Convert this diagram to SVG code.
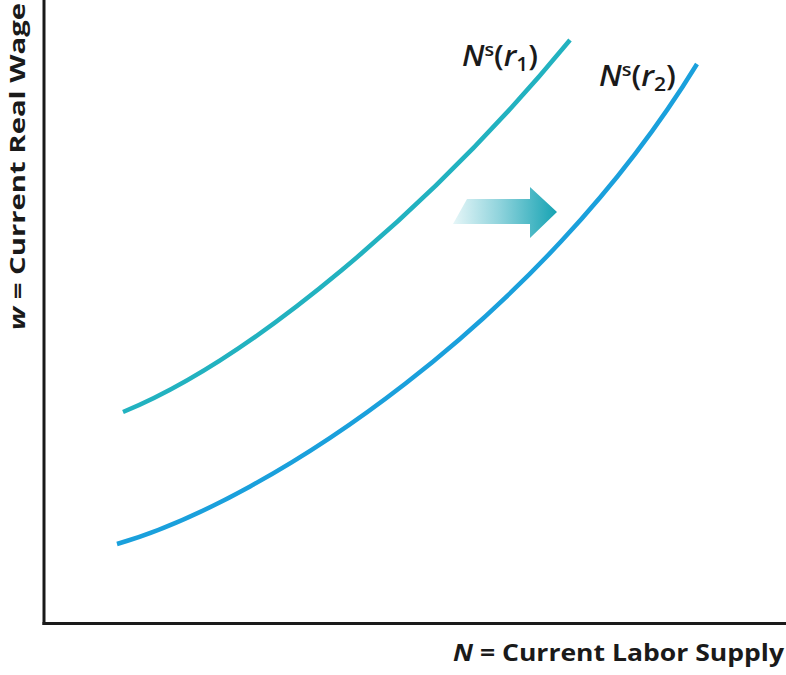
<svg xmlns="http://www.w3.org/2000/svg" width="786" height="675" viewBox="0 0 786 675">
<defs>
<linearGradient id="shiftGrad" x1="453" y1="0" x2="557" y2="0" gradientUnits="userSpaceOnUse">
<stop offset="0" stop-color="#e6f6f8"/>
<stop offset="0.45" stop-color="#8fd3dc"/>
<stop offset="1" stop-color="#16a3b3"/>
</linearGradient>
</defs>
<style>
.axis{stroke:#1a1a1a;stroke-width:3;fill:none}
.curve{fill:none;stroke-width:4.5;stroke-linecap:butt}
.lbl{font-family:"Open Sans","Liberation Sans",sans-serif;font-weight:600;fill:#1a1a1a}
.ax{font-family:"Open Sans","Liberation Sans",sans-serif;font-weight:700;fill:#1a1a1a}
.it{font-style:italic}
</style>
<g id="axes">
<line class="axis" x1="44" y1="0" x2="44" y2="625"/>
<line class="axis" x1="42.5" y1="623.5" x2="786" y2="623.5"/>
</g>
<g id="connectors">
<path id="curve-r1" class="curve" stroke="#22b2c0" d="M123,412 C250,360 430,210 570,40"/>
<path id="curve-r2" class="curve" stroke="#1aa0dc" d="M117,544 C270,500 540,320 697,64"/>
<path id="shift-arrow" fill="url(#shiftGrad)" d="M467,199 L530,199 L530,187 L557,212 L530,238 L530,224 L453,224 Z"/>
</g>
<g id="label-r1">
<text class="lbl" x="462" y="66" font-size="28" textLength="76" lengthAdjust="spacingAndGlyphs"><tspan class="it">N</tspan><tspan font-size="18" dy="-10">s</tspan><tspan dy="10">(</tspan><tspan class="it">r</tspan><tspan font-size="19" dy="5">1</tspan><tspan dy="-5">)</tspan></text>
</g>
<g id="label-r2">
<text class="lbl" x="599" y="86" font-size="28" textLength="77" lengthAdjust="spacingAndGlyphs"><tspan class="it">N</tspan><tspan font-size="18" dy="-10">s</tspan><tspan dy="10">(</tspan><tspan class="it">r</tspan><tspan font-size="19" dy="5">2</tspan><tspan dy="-5">)</tspan></text>
</g>
<g id="y-label">
<text class="ax" transform="translate(25,330) rotate(-90)" font-size="22" font-weight="600" textLength="327" lengthAdjust="spacingAndGlyphs"><tspan class="it">w</tspan> = Current Real Wage</text>
</g>
<g id="x-label">
<text class="ax" x="453" y="661" font-size="23" font-weight="600" textLength="331" lengthAdjust="spacingAndGlyphs"><tspan class="it">N</tspan> = Current Labor Supply</text>
</g>
</svg>
